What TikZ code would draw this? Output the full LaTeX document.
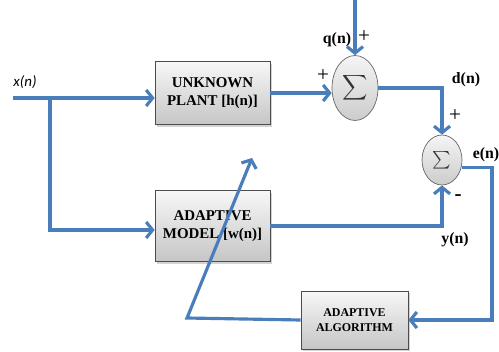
\documentclass[tikz,border=0pt]{standalone}
\usepackage{fontspec}
\setmainfont{Liberation Serif}
\newfontfamily\calib{Carlito}
\usetikzlibrary{arrows.meta,shapes.geometric,shadows}
\definecolor{lineblue}{RGB}{74,126,187}

\begin{document}
\begin{tikzpicture}[x=0.02cm,y=-0.02cm,
	blk/.style={draw=black!70,rectangle,top color=gray!6,bottom color=gray!45,drop shadow={opacity=0.35,shadow xshift=1.2pt,shadow yshift=-1.2pt},inner sep=0pt,align=center,font=\bfseries\fontsize{8.5}{10}\selectfont},
	sumnode/.style={draw=black!60,ellipse,top color=gray!8,bottom color=gray!40,inner sep=0pt},
	wire/.style={color=lineblue,line width=1.8pt,>={Straight Barb[length=1.3mm,width=3.2mm]}},
	lbl/.style={font=\bfseries\fontsize{9}{10}\selectfont}]
	\useasboundingbox (0,0) rectangle (499,351);

	% blocks
	\node[blk,minimum width=2.3cm,minimum height=1.26cm] (plant) at (212.5,93) {UNKNOWN\\PLANT [h(n)]};
	\node[blk,minimum width=2.3cm,minimum height=1.42cm] (model) at (212.5,226) {ADAPTIVE\\MODEL [w(n)]};
	\node[blk,minimum width=2.14cm,minimum height=1.16cm,font=\bfseries\fontsize{6.8}{8.2}\selectfont] (algo) at (354.5,320) {ADAPTIVE\\ALGORITHM};

	\node[sumnode,minimum width=0.92cm,minimum height=1.3cm] (sum1) at (355,88) {\color{black!80}$\displaystyle\sum$};
	\node[sumnode,minimum width=0.8cm,minimum height=1.0cm] (sum2) at (442,160) {\color{black!80}$\sum$};

	\coordinate (in) at (13,98);
	\coordinate (br) at (50,98);
	\coordinate (br2) at (50,230);
	\coordinate (qtop) at (355,0);
	\coordinate (eright) at (492,200);
	\coordinate (fb) at (187,318);
	\coordinate (fbtip) at (252,158);

	% labels
	\node[font=\calib\itshape\fontsize{8.5}{10}\selectfont] (xlab) at (25,82) {x(n)};
	\node[lbl] (qlab) at (337,40) {q(n)};
	\node[lbl,font=\fontsize{12}{12}\selectfont] (qplus) at (364,37) {+};
	\node[lbl,font=\fontsize{12}{12}\selectfont] (pplus) at (323,76) {+};
	\node[lbl] (dlab) at (466,80) {d(n)};
	\node[lbl,font=\fontsize{12}{12}\selectfont] (dplus) at (455,116) {+};
	\node[lbl] (elab) at (486,155) {e(n)};
	\node[lbl,font=\bfseries\fontsize{12}{12}\selectfont] (yminus) at (458,198) {-};
	\node[lbl] (ylab) at (455,240) {y(n)};

	% connectors
	\draw[wire,->] (in) -- (in -| plant.west);
	\draw[wire,->] (br) -- (br2) -- (br2 -| model.west);
	\draw[wire,->] (plant.east) -- (plant.east -| sum1.west);
	\draw[wire,->] (qtop) -- (sum1.north);
	\draw[wire,->] (sum1.east) -| (sum2.north);
	\draw[wire,->] (model.east) -| (sum2.south);
	\draw[wire,->] (sum2.-20) -- (sum2.-20 -| eright) |- (algo.east);
	\draw[wire,->] (algo.west) -- (fb) -- (fbtip);
\end{tikzpicture}
\end{document}
